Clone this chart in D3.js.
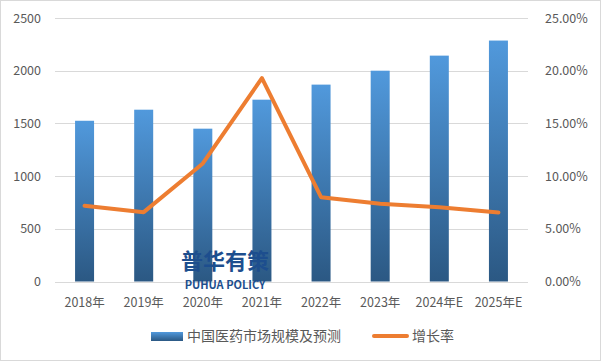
<!DOCTYPE html>
<html>
<head>
<meta charset="utf-8">
<script src="https://cdn.jsdelivr.net/npm/d3@7"></script>
<style>
  html, body { margin: 0; padding: 0; background: #fff; }
  #chart { width: 601px; height: 361px; }
</style>
</head>
<body>
<div id="chart"></div>
<script>
(function () {
    const container = document.getElementById("chart");

    const years = ["2018年", "2019年", "2020年", "2021年", "2022年", "2023年", "2024年E", "2025年E"];
    const marketSize = [1525, 1630, 1450, 1725, 1868, 2000, 2143, 2286];
    const growthRate = [0.0718, 0.0658, 0.1120, 0.1930, 0.0800, 0.0737, 0.0705, 0.0654];
    const leftTicks = [0, 500, 1000, 1500, 2000, 2500];
    const rightTicks = [0, 0.05, 0.10, 0.15, 0.20, 0.25];
    const seriesNames = ["中国医药市场规模及预测", "增长率"];

    const width = 601, height = 361;
    const font = "'Noto Sans CJK SC', 'Noto Sans', sans-serif";
    const textColor = "#595959";

    const svg = d3.select(container).append("svg")
        .attr("width", width)
        .attr("height", height)
        .style("display", "block");

    // chart border
    svg.append("rect")
        .attr("x", 0.5).attr("y", 0.5)
        .attr("width", width - 1).attr("height", height - 1)
        .attr("fill", "#fff").attr("stroke", "#d9d9d9");

    const plot = { left: 55, right: 528, top: 18, bottom: 281.5 };

    const x = d3.scaleBand().domain(years).range([plot.left, plot.right]);
    const yLeft = d3.scaleLinear().domain([0, 2500]).range([plot.bottom, plot.top]);
    const yRight = d3.scaleLinear().domain([0, 0.25]).range([plot.bottom, plot.top]);

    const defs = svg.append("defs");
    const grad = defs.append("linearGradient")
        .attr("id", "barGrad")
        .attr("x1", "0%").attr("x2", "0%")
        .attr("y1", "0%").attr("y2", "100%");
    grad.append("stop").attr("offset", "0%").attr("stop-color", "#5199dc");
    grad.append("stop").attr("offset", "100%").attr("stop-color", "#2b5883");

    // gridlines
    svg.append("g")
        .selectAll("line")
        .data(leftTicks)
        .join("line")
        .attr("x1", plot.left).attr("x2", plot.right)
        .attr("y1", d => Math.round(yLeft(d)) + 0.5)
        .attr("y2", d => Math.round(yLeft(d)) + 0.5)
        .attr("stroke", "#d9d9d9")
        .attr("stroke-width", 1);

    // left axis
    const leftAxis = svg.append("g")
        .attr("transform", `translate(${plot.left},0)`)
        .call(d3.axisLeft(yLeft).tickValues(leftTicks).tickSize(0).tickPadding(14)
            .tickFormat(d3.format("d")));
    leftAxis.select(".domain").remove();
    leftAxis.selectAll("text")
        .attr("fill", textColor)
        .attr("font-family", font)
        .attr("font-size", 12.5);

    // right axis
    const rightAxis = svg.append("g")
        .attr("transform", `translate(${plot.right},0)`)
        .call(d3.axisRight(yRight).tickValues(rightTicks).tickSize(0).tickPadding(17)
            .tickFormat(d3.format(".2%")));
    rightAxis.select(".domain").remove();
    rightAxis.selectAll("text")
        .attr("fill", textColor)
        .attr("font-family", font)
        .attr("font-size", 12.5);

    // bars
    const barW = 19;
    svg.append("g")
        .selectAll("rect")
        .data(marketSize)
        .join("rect")
        .attr("x", (d, i) => x(years[i]) + x.bandwidth() / 2 - barW / 2)
        .attr("y", d => yLeft(d))
        .attr("width", barW)
        .attr("height", d => yLeft(0) - yLeft(d))
        .attr("fill", "url(#barGrad)");

    // bottom axis
    const bottomAxis = svg.append("g")
        .attr("transform", `translate(0,${plot.bottom})`)
        .call(d3.axisBottom(x).tickSize(0).tickPadding(17));
    bottomAxis.select(".domain").remove();
    bottomAxis.selectAll("text")
        .attr("fill", textColor)
        .attr("font-family", font)
        .attr("font-size", 12.5);

    // watermark
    const wm = svg.append("g")
        .attr("fill", "#1d4e8e")
        .attr("font-family", font)
        .attr("font-weight", "bold")
        .attr("text-anchor", "middle");
    wm.append("text")
        .attr("x", 225).attr("y", 269)
        .attr("font-size", 22)
        .text("普华有策");
    wm.append("text")
        .attr("x", 225).attr("y", 289)
        .attr("font-size", 11)
        .text("PUHUA POLICY");

    // growth line
    const line = d3.line()
        .x((d, i) => x(years[i]) + x.bandwidth() / 2)
        .y(d => yRight(d));
    svg.append("path")
        .datum(growthRate)
        .attr("d", line)
        .attr("fill", "none")
        .attr("stroke", "#ed7d31")
        .attr("stroke-width", 4)
        .attr("stroke-linejoin", "round")
        .attr("stroke-linecap", "round");

    // legend
    const legend = svg.append("g").attr("font-family", font).attr("font-size", 14).attr("fill", textColor);
    legend.append("rect")
        .attr("x", 151).attr("y", 332)
        .attr("width", 32).attr("height", 9)
        .attr("fill", "url(#barGrad)");
    legend.append("text")
        .attr("x", 187).attr("y", 341)
        .text(seriesNames[0]);
    legend.append("line")
        .attr("x1", 374).attr("x2", 407)
        .attr("y1", 336).attr("y2", 336)
        .attr("stroke", "#ed7d31")
        .attr("stroke-width", 4)
        .attr("stroke-linecap", "round");
    legend.append("text")
        .attr("x", 412).attr("y", 341)
        .text(seriesNames[1]);
})();
</script>
</body>
</html>
